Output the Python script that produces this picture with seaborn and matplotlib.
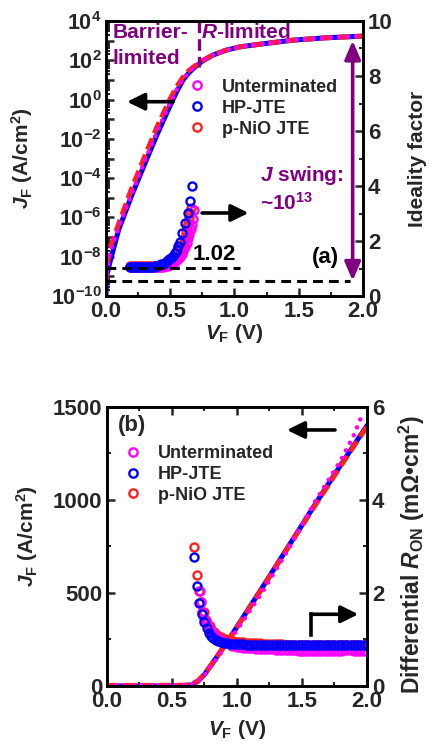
import numpy as np
import pandas as pd
import matplotlib
matplotlib.use("Agg")
import matplotlib.pyplot as plt
import seaborn as sns
from matplotlib.lines import Line2D
from matplotlib.ticker import (FixedLocator, MultipleLocator, LogLocator,
                               NullFormatter, FuncFormatter)

# ---------------- data ----------------
series_names = ["Unterminated", "HP-JTE", "p-NiO JTE"]

# (a) J-V, log scale
V_log = [0.0, 0.005, 0.03, 0.1, 0.2, 0.3, 0.4, 0.5, 0.55, 0.6, 0.65, 0.7,
         0.75, 0.83, 0.93, 1.04, 1.2, 1.45, 1.7, 2.0]
J_log_hp = [1e-10, 1e-9, 5e-9, 2.5e-7, 1.3e-5, 5e-4, 1.8e-2, 0.5, 2.5, 10,
            25, 50, 90, 180, 320, 480, 660, 1050, 1380, 1700]
J_log_nio = [5e-10, 2.5e-9, 2.5e-8, 5e-7, 3e-5, 1.2e-3, 4.5e-2, 1.1, 4.5, 14,
             32, 56, 95, 185, 320, 480, 660, 1050, 1380, 1700]
J_log_un = [6e-10, 1.6e-9, 1.6e-8, 3.2e-7, 1.6e-5, 7e-4, 2.5e-2, 0.7, 3.2, 11,
            28, 52, 92, 182, 320, 480, 660, 1050, 1380, 1700]

# (a) ideality factor
V_n_hp = [0.19, 0.205, 0.22, 0.235, 0.25, 0.265, 0.28, 0.295, 0.31, 0.325,
          0.34, 0.355, 0.37, 0.385, 0.40, 0.415, 0.43, 0.445, 0.459, 0.476,
          0.493, 0.509, 0.524, 0.537, 0.55, 0.563, 0.576, 0.594, 0.615, 0.636,
          0.654, 0.672]
n_hp = [1.07, 1.06, 1.06, 1.06, 1.06, 1.06, 1.06, 1.06, 1.06, 1.06,
        1.06, 1.06, 1.07, 1.08, 1.10, 1.12, 1.15, 1.18, 1.21, 1.26,
        1.33, 1.39, 1.45, 1.55, 1.67, 1.81, 1.97, 2.28, 2.64, 3.01,
        3.47, 4.01]
V_n_un = [0.19, 0.205, 0.22, 0.235, 0.25, 0.265, 0.28, 0.295, 0.31, 0.325,
          0.34, 0.355, 0.37, 0.385, 0.40, 0.415, 0.43, 0.445, 0.46, 0.48,
          0.50, 0.524, 0.541, 0.558, 0.574, 0.589, 0.602, 0.615, 0.628, 0.64,
          0.65, 0.659, 0.667, 0.675, 0.685]
n_un = [1.05, 1.05, 1.05, 1.05, 1.05, 1.05, 1.05, 1.05, 1.05, 1.05,
        1.05, 1.05, 1.05, 1.05, 1.05, 1.05, 1.06, 1.07, 1.08, 1.11,
        1.14, 1.19, 1.25, 1.33, 1.42, 1.53, 1.65, 1.79, 1.94, 2.10,
        2.26, 2.43, 2.60, 2.79, 3.12]
V_n_nio = [0.19, 0.205, 0.22, 0.235, 0.25, 0.265, 0.28, 0.295, 0.31, 0.325,
           0.34, 0.355, 0.37, 0.385, 0.40, 0.415, 0.43, 0.445, 0.46, 0.48,
           0.50, 0.515, 0.532, 0.548, 0.562, 0.575, 0.587, 0.597, 0.607, 0.617,
           0.625, 0.633, 0.641, 0.648, 0.655, 0.661]
n_nio = [1.09, 1.09, 1.09, 1.09, 1.09, 1.09, 1.09, 1.09, 1.09, 1.09,
         1.09, 1.09, 1.09, 1.09, 1.09, 1.10, 1.10, 1.10, 1.11, 1.13,
         1.17, 1.22, 1.29, 1.37, 1.46, 1.57, 1.70, 1.85, 2.00, 2.15,
         2.32, 2.50, 2.67, 2.85, 3.03, 3.21]

# annotation levels in (a)
n_min = 1.02
J_swing_top = 1.0e3
J_swing_bottom = 6.0e-10
V_transition = 0.725

# (b) J-V, linear scale
V_lin = [0.0, 0.3, 0.6, 0.65, 0.7, 0.75, 0.8, 0.9, 1.0, 1.2, 1.4, 1.6, 1.8, 2.0]
J_lin_hp = [0, 0, 1, 6, 25, 62, 110, 212, 318, 535, 755, 975, 1190, 1400]
J_lin_nio = [3, 3, 4, 9, 28, 64, 112, 212, 316, 532, 752, 970, 1185, 1395]
V_lin_un = [0.0, 0.3, 0.6, 0.65, 0.7, 0.75, 0.8, 0.9, 1.0, 1.2, 1.4, 1.6, 1.8,
            1.9, 1.97]
J_lin_un = [3, 3, 4, 8, 24, 58, 105, 200, 300, 510, 740, 990, 1215, 1350, 1470]

# (b) differential R_on
V_flat = [1.025, 1.05, 1.075, 1.1, 1.125, 1.15, 1.175, 1.2, 1.225, 1.25,
          1.275, 1.3, 1.325, 1.35, 1.375, 1.4, 1.425, 1.45, 1.475, 1.5,
          1.525, 1.55, 1.575, 1.6, 1.625, 1.65, 1.675, 1.7, 1.725, 1.75,
          1.775, 1.8, 1.825, 1.85, 1.875, 1.9, 1.925, 1.95, 1.975, 2.0]
V_r_hp_head = [0.669, 0.69, 0.708, 0.728, 0.746, 0.767, 0.787, 0.803, 0.818,
               0.837, 0.856, 0.875, 0.9, 0.925, 0.95, 0.975, 1.0]
R_hp_head = [2.78, 2.14, 1.78, 1.55, 1.38, 1.24, 1.13, 1.08, 1.03,
             0.99, 0.96, 0.94, 0.93, 0.92, 0.91, 0.91, 0.90]
R_hp_flat = [0.90, 0.90, 0.89, 0.89, 0.89, 0.89, 0.89, 0.88, 0.88, 0.88,
             0.88, 0.88, 0.88, 0.88, 0.88, 0.88, 0.88, 0.88, 0.88, 0.88,
             0.88, 0.88, 0.88, 0.88, 0.88, 0.88, 0.88, 0.88, 0.88, 0.88,
             0.88, 0.88, 0.88, 0.88, 0.88, 0.88, 0.88, 0.88, 0.88, 0.88]
V_r_nio_head = [0.669, 0.69, 0.71, 0.727, 0.745, 0.765, 0.79, 0.82, 0.85,
                0.88, 0.91, 0.94, 0.97, 1.0]
R_nio_head = [2.98, 2.39, 2.05, 1.80, 1.58, 1.42, 1.28, 1.17, 1.10,
              1.05, 1.01, 0.98, 0.96, 0.95]
R_nio_flat = [0.94, 0.94, 0.93, 0.93, 0.92, 0.92, 0.92, 0.91, 0.91, 0.91,
              0.90, 0.90, 0.90, 0.90, 0.89, 0.89, 0.89, 0.89, 0.89, 0.89,
              0.89, 0.89, 0.89, 0.89, 0.89, 0.89, 0.89, 0.89, 0.89, 0.89,
              0.89, 0.89, 0.89, 0.89, 0.89, 0.89, 0.89, 0.89, 0.89, 0.89]
V_r_un_head = [0.712, 0.72, 0.733, 0.75, 0.767, 0.785, 0.805, 0.83, 0.86,
               0.895, 0.93, 0.965, 1.0]
R_un_head = [2.05, 1.80, 1.60, 1.45, 1.35, 1.25, 1.17, 1.09, 1.02,
             0.97, 0.92, 0.87, 0.84]
R_un_flat = [0.83, 0.82, 0.82, 0.81, 0.81, 0.80, 0.80, 0.80, 0.79, 0.79,
             0.79, 0.78, 0.78, 0.78, 0.78, 0.77, 0.77, 0.77, 0.76, 0.76,
             0.76, 0.76, 0.75, 0.75, 0.75, 0.75, 0.75, 0.76, 0.76, 0.76,
             0.76, 0.76, 0.77, 0.77, 0.77, 0.76, 0.76, 0.76, 0.76, 0.76]

# ---------------- style ----------------
sns.set_style("ticks")
plt.rcParams.update({
    "font.weight": "bold",
    "axes.labelweight": "bold",
    "mathtext.fontset": "custom",
    "mathtext.rm": "Liberation Sans:bold",
    "mathtext.it": "Liberation Sans:italic:bold",
    "mathtext.bf": "Liberation Sans:bold",
    "mathtext.sf": "Liberation Sans:bold",
    "axes.linewidth": 1.9,
    "axes.edgecolor": "black",
    "xtick.direction": "in",
    "ytick.direction": "in",
    "axes.unicode_minus": False,
})
plt.rcParams["font.family"] = ["Liberation Sans", "DejaVu Sans"]

C_UN = "#ff00ff"
C_HP = "#0000ff"
C_NIO = "#ff2020"
PURPLE = "#800080"
colors = {"Unterminated": C_UN, "HP-JTE": C_HP, "p-NiO JTE": C_NIO}

LW = 3.6
solid = dict(linestyle="-", lw=LW)
dashed = dict(linestyle=(0, (2.4, 1.1)), lw=LW, dash_capstyle="butt")
dotted = dict(linestyle=(0, (0.01, 1.85)), lw=3.3, dash_capstyle="round")

TICK_FS = 16
LABEL_FS = 15


def circles(ax, x, y, c, ms=5.8):
    sns.lineplot(x=x, y=y, ax=ax, sort=False, estimator=None, marker="o",
                 linestyle="none", markerfacecolor="none", mec=c, mew=1.7,
                 ms=ms, color=c)


def style_ticks(ax, labelsize=TICK_FS):
    ax.tick_params(which="major", length=5.5, width=1.8, labelsize=labelsize,
                   direction="in", pad=3.5)
    ax.tick_params(which="minor", length=3, width=1.5, direction="in")


fig = plt.figure(figsize=(4.29, 7.47), dpi=100)

# ======================= panel (a) =======================
ax1 = fig.add_axes([0.247, 0.6037, 0.599, 0.3682])
ax1r = ax1.twinx()

sns.lineplot(x=V_log, y=J_log_hp, ax=ax1, sort=False, estimator=None,
             color=C_HP, **solid)
sns.lineplot(x=V_log, y=J_log_nio, ax=ax1, sort=False, estimator=None,
             color=C_NIO, **dashed)
sns.lineplot(x=V_log, y=J_log_un, ax=ax1, sort=False, estimator=None,
             color=C_UN, **dotted)

ax1.set_yscale("log")
ax1.set_xlim(0, 2.0)
ax1.set_ylim(1e-10, 1e4)
ax1.yaxis.set_major_locator(LogLocator(base=10, numticks=30))
ax1.yaxis.set_major_formatter(FuncFormatter(
    lambda y, _: (r"$\mathdefault{10^{%d}}$" % round(np.log10(y)))
    if round(np.log10(y)) % 2 == 0 else ""))
ax1.yaxis.set_minor_locator(LogLocator(base=10, subs=np.arange(2, 10),
                                       numticks=200))
ax1.yaxis.set_minor_formatter(NullFormatter())
ax1.xaxis.set_major_locator(MultipleLocator(0.5))
ax1.xaxis.set_minor_locator(MultipleLocator(0.25))
ax1.xaxis.set_major_formatter(FuncFormatter(lambda v, _: f"{v:.1f}"))
style_ticks(ax1)
ax1.tick_params(axis="y", which="major", labelsize=15.5, pad=3)
ax1.tick_params(top=False, right=False, which="both")

circles(ax1r, V_n_nio, n_nio, C_NIO)
circles(ax1r, V_n_un, n_un, C_UN)
circles(ax1r, V_n_hp, n_hp, C_HP)
ax1r.set_ylim(0, 10)
ax1r.yaxis.set_major_locator(MultipleLocator(2))
ax1r.yaxis.set_minor_locator(MultipleLocator(1))
style_ticks(ax1r)

# guide lines
ax1.plot([0, 1.9], [J_swing_bottom, J_swing_bottom], color="k", lw=2.2,
         linestyle=(0, (3.2, 2.0)))
ax1r.plot([0, 1.04], [n_min, n_min], color="k", lw=2.2,
          linestyle=(0, (3.2, 2.0)))
ax1.plot([V_transition, V_transition], [1e4, 46], color=PURPLE, lw=2.4,
         linestyle=(0, (3.5, 1.8)))
ax1.annotate("", xy=(1.92, J_swing_top), xytext=(1.92, J_swing_bottom),
             arrowprops=dict(arrowstyle="<|-|>,head_length=0.7,head_width=0.3",
                             color=PURPLE, lw=2.6, mutation_scale=16,
                             shrinkA=0, shrinkB=0))

ax1.set_ylabel(r"$J_\mathrm{F}$ (A/cm$^\mathrm{2}$)", fontsize=LABEL_FS)
ax1r.set_ylabel("Ideality factor", fontsize=LABEL_FS, rotation=90)
ax1.set_xlabel(r"$V_\mathrm{F}$ (V)", fontsize=LABEL_FS)
ax1.yaxis.set_label_coords(-0.275, 0.5)
ax1r.yaxis.set_label_coords(1.175, 0.5)
ax1.xaxis.set_label_coords(0.5, -0.095)

tk = dict(transform=ax1.transAxes, fontweight="bold", va="center", ha="left")
ax1.text(0.025, 0.958, "Barrier-", color=PURPLE, fontsize=15, **tk)
ax1.text(0.025, 0.862, "limited", color=PURPLE, fontsize=15, **tk)
ax1.text(0.37, 0.958, r"$R$-limited", color=PURPLE, fontsize=15, **tk)
ax1.text(0.598, 0.44, r"$J$ swing:", color=PURPLE, fontsize=15, **tk)
ax1.text(0.598, 0.338, r"~10$^{13}$", color=PURPLE, fontsize=15, **tk)
ax1.text(0.336, 0.152, "1.02", color="k", fontsize=16, **tk)
ax1.text(0.80, 0.14, "(a)", color="k", fontsize=16, **tk)

arr = dict(arrowstyle="-|>,head_length=0.65,head_width=0.32", color="k",
           lw=2.6, mutation_scale=16, shrinkA=0, shrinkB=0)
ax1.annotate("", xy=(0.082, 0.7065), xytext=(0.262, 0.7065),
             xycoords="axes fraction", textcoords="axes fraction",
             arrowprops=arr)
ax1.annotate("", xy=(0.555, 0.302), xytext=(0.374, 0.302),
             xycoords="axes fraction", textcoords="axes fraction",
             arrowprops=arr)

handles = [Line2D([], [], marker="o", ls="none", mfc="none",
                  mec=colors[s], mew=1.7, ms=6) for s in series_names]
ax1r.legend(handles, series_names, loc="upper left",
            bbox_to_anchor=(0.32, 0.79), frameon=False, fontsize=13,
            handlelength=1.0, handletextpad=0.85, labelspacing=0.22,
            borderaxespad=0, borderpad=0)

# ======================= panel (b) =======================
ax2 = fig.add_axes([0.2494, 0.0817, 0.606, 0.3735])
ax2r = ax2.twinx()

sns.lineplot(x=V_lin, y=J_lin_hp, ax=ax2, sort=False, estimator=None,
             color=C_HP, **solid)
sns.lineplot(x=V_lin, y=J_lin_nio, ax=ax2, sort=False, estimator=None,
             color=C_NIO, **dashed)
sns.lineplot(x=V_lin_un, y=J_lin_un, ax=ax2, sort=False, estimator=None,
             color=C_UN, **dotted)
ax2.set_xlim(0, 2.0)
ax2.set_ylim(0, 1500)
ax2.yaxis.set_major_locator(MultipleLocator(500))
ax2.yaxis.set_minor_locator(MultipleLocator(250))
ax2.xaxis.set_major_locator(MultipleLocator(0.5))
ax2.xaxis.set_minor_locator(MultipleLocator(0.25))
ax2.xaxis.set_major_formatter(FuncFormatter(lambda v, _: f"{v:.1f}"))
style_ticks(ax2)
ax2.tick_params(top=True, right=False, which="both")

circles(ax2r, V_r_nio_head + V_flat, R_nio_head + R_nio_flat, C_NIO)
circles(ax2r, V_r_un_head + V_flat, R_un_head + R_un_flat, C_UN)
circles(ax2r, V_r_hp_head + V_flat, R_hp_head + R_hp_flat, C_HP)
ax2r.set_ylim(0, 6)
ax2r.yaxis.set_major_locator(MultipleLocator(2))
ax2r.yaxis.set_minor_locator(MultipleLocator(1))
style_ticks(ax2r)

ax2.set_ylabel(r"$J_\mathrm{F}$ (A/cm$^\mathrm{2}$)", fontsize=LABEL_FS)
ax2r.set_ylabel(r"Differential $R_\mathrm{ON}$ (mΩ•cm$^\mathrm{2}$)",
                fontsize=16.5, rotation=90)
ax2.set_xlabel(r"$V_\mathrm{F}$ (V)", fontsize=LABEL_FS)
ax2.yaxis.set_label_coords(-0.258, 0.538)
ax2r.yaxis.set_label_coords(1.115, 0.47)
ax2.xaxis.set_label_coords(0.5, -0.115)

ax2.text(0.04, 0.935, "(b)", transform=ax2.transAxes, fontsize=16,
         fontweight="bold", va="center", ha="left")
ax2.annotate("", xy=(0.692, 0.9176), xytext=(0.877, 0.9176),
             xycoords="axes fraction", textcoords="axes fraction",
             arrowprops=arr)
ax2.plot([0.785, 0.785], [0.183, 0.257], transform=ax2.transAxes, color="k",
         lw=2.6, solid_capstyle="projecting")
ax2.annotate("", xy=(0.967, 0.257), xytext=(0.785, 0.257),
             xycoords="axes fraction", textcoords="axes fraction",
             arrowprops=arr)

ax2r.legend(handles, series_names, loc="upper left",
            bbox_to_anchor=(0.066, 0.862), frameon=False, fontsize=13,
            handlelength=1.0, handletextpad=0.85, labelspacing=0.2,
            borderaxespad=0, borderpad=0)

for ax in (ax1, ax1r, ax2, ax2r):
    for sp in ax.spines.values():
        sp.set_linewidth(1.9)
        sp.set_color("black")

fig.savefig("out.png", dpi=100)
